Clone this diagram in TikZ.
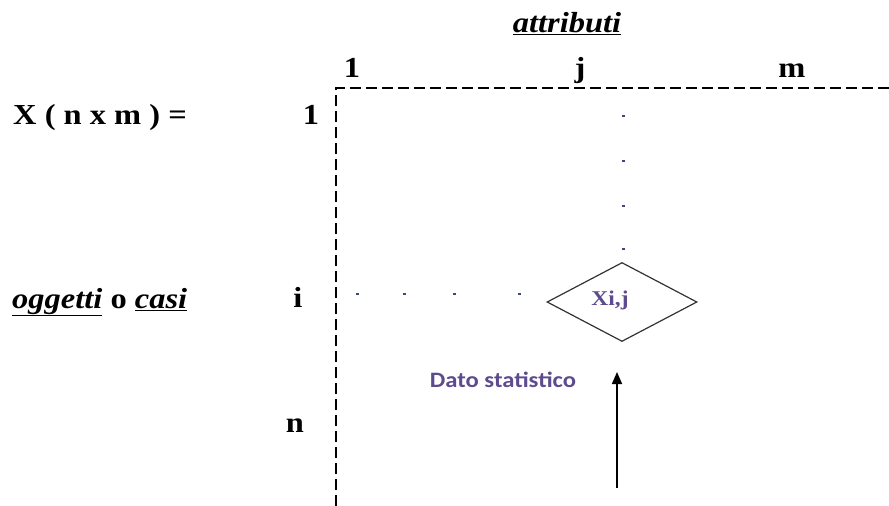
\documentclass[tikz,border=0pt]{standalone}
\usepackage{fontspec}
\setmainfont{Liberation Serif}
\newfontfamily\labfont[FakeStretch=1.12]{Liberation Serif}
\newfontfamily\notefont[FakeStretch=1.12]{Carlito}
\usetikzlibrary{arrows.meta,shapes.geometric}
\definecolor{datapurple}{HTML}{5E4B8E}
\definecolor{dotblue}{HTML}{3A4A7A}

\begin{document}
\begin{tikzpicture}[x=1pt,y=-1pt,
lab/.style={font=\labfont\fontsize{29}{32}\selectfont\bfseries,inner sep=0pt,anchor=base},
grid/.style={dash pattern=on 11pt off 5pt,line width=1.6pt},
cell/.style={draw=black!80,diamond,line width=1.2pt,inner sep=0pt,
minimum width=150pt,minimum height=79pt},
val/.style={font=\labfont\fontsize{21}{24}\selectfont\bfseries,text=datapurple,
inner sep=0pt,anchor=base},
note/.style={font=\notefont\fontsize{22}{26}\selectfont\bfseries,
text=datapurple,inner sep=0pt,anchor=base},
dot/.style={fill=dotblue},
arr/.style={-{Triangle[length=12pt,width=10pt]},line width=1.6pt}
]
\useasboundingbox (0,0) rectangle (889,506);

% etichette a sinistra
\node[lab,anchor=base west] (xdim) at (13,124) {X ( n x m ) =};
\node[lab,anchor=base west] (obj) at (12,308)
{\underline{\textit{oggetti}} o \underline{\textit{casi}}};

% intestazioni di colonna
\node[lab] (attr) at (567,32) {\underline{\textit{attributi}}};
\node[lab] (c1) at (352,77) {1};
\node[lab] (cj) at (580,77) {j};
\node[lab] (cm) at (792,77) {m};

% intestazioni di riga
\node[lab] (r1) at (311,124) {1};
\node[lab] (ri) at (298,307) {i};
\node[lab] (rn) at (295,432) {n};

% assi tratteggiati
\coordinate (corner) at (336,88);
\coordinate (topend) at (889,88);
\coordinate (botend) at (336,506);
\draw[grid] (botend) -- (corner) -- (topend);

% puntini
\foreach \y in {115,160,205,248}
\fill[dot] (622,\y) rectangle ++(2.5,1.5);
\foreach \x in {356,403,453,518}
\fill[dot] (\x,293) rectangle ++(2.5,1.5);

% dato
\node[cell] (xij) at (622,302) {};
\node[val] (xijlab) at (610,305) {Xi,j};
\node[note] (dato) at (503,387) {Dato statistico};

\coordinate (arrtail) at (617,488);
\coordinate (arrtip) at (617,372);
\draw[arr] (arrtail) -- (arrtip);
\end{tikzpicture}
\end{document}
